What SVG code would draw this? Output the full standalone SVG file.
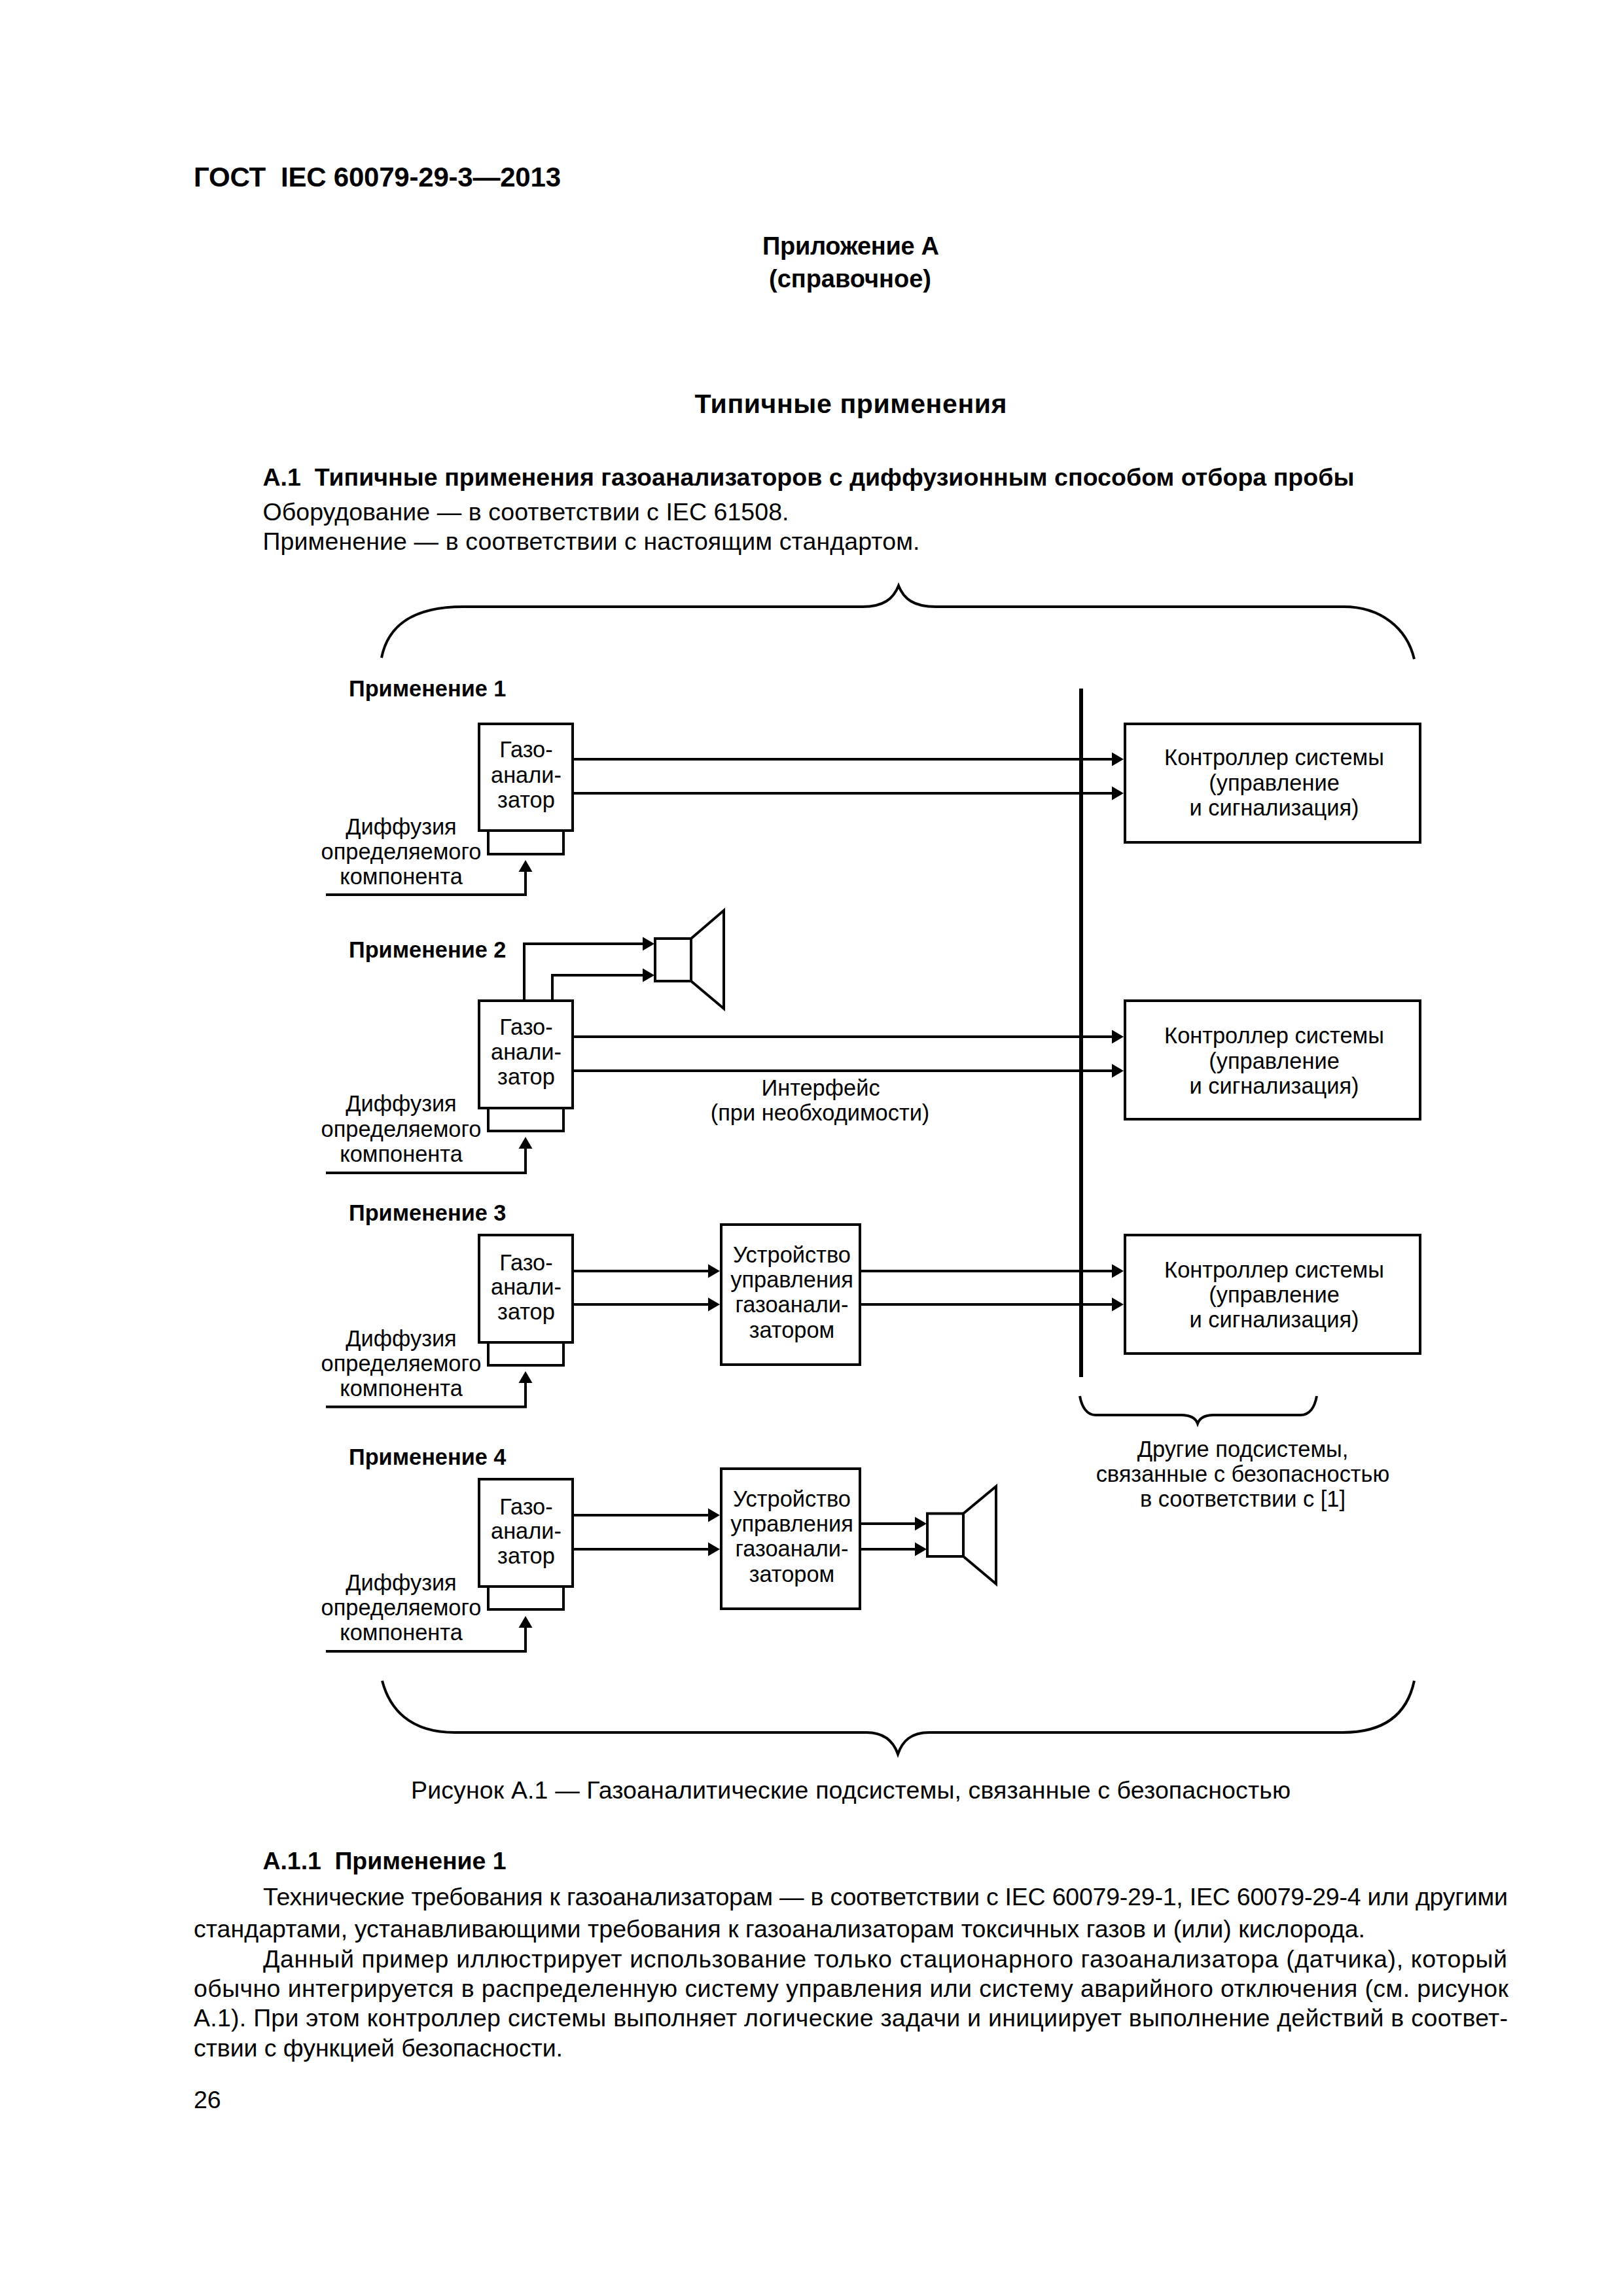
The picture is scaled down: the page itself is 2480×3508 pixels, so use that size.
<svg xmlns="http://www.w3.org/2000/svg" width="2480" height="3508" viewBox="0 0 2480 3508">
<style>
text{font-family:"Liberation Sans",Arial,sans-serif;fill:#000}
.b{font-weight:bold}
.p{font-size:37.5px}
.d{font-size:34.4px;text-anchor:middle}
.l{font-size:34.3px;font-weight:bold}
.box{fill:#fff;stroke:#000;stroke-width:4}
.ln{fill:none;stroke:#000;stroke-width:4}
.br{fill:none;stroke:#000;stroke-width:4}
.a{fill:none;stroke:#000;stroke-width:4;marker-end:url(#arr)}
</style>
<defs>
<marker id="arr" markerUnits="userSpaceOnUse" markerWidth="20" markerHeight="24" refX="9" refY="11" orient="auto"><path d="M0 0.5L18 11L0 21.500z" fill="#000"/></marker>
</defs>
<rect width="2480" height="3508" fill="#fff"/>
<g id="page-text-top">
<text class="b" x="296" y="285" font-size="42" xml:space="preserve" textLength="561">ГОСТ  IEC 60079-29-3—2013</text>
<text class="b" x="1165" y="389" font-size="38" textLength="270">Приложение А</text>
<text class="b" x="1175" y="438.5" font-size="38" textLength="248">(справочное)</text>
<text class="b" x="1061.5" y="631" font-size="41" textLength="477">Типичные применения</text>
<text class="b p" x="401.5" y="742" xml:space="preserve" textLength="1668">А.1  Типичные применения газоанализаторов с диффузионным способом отбора пробы</text>
<text class="p" x="401.5" y="795" textLength="804">Оборудование — в соответствии с IEC 61508.</text>
<text class="p" x="401.5" y="840" textLength="1004">Применение — в соответствии с настоящим стандартом.</text>
</g>
<g id="connectors">
<path class="br" d="M583 1005C592 960 625 927 708 927L1318 927C1350 927 1365 915 1373 895C1381 915 1396 927 1430 927L2053 927C2110 927 2150 960 2161 1007"/>
<path class="br" d="M584 2568C595 2610 625 2647 695 2647L1324 2647C1350 2647 1365 2660 1372 2680C1379 2660 1392 2647 1420 2647L2052 2647C2115 2647 2150 2620 2161 2568"/>
<path class="br" d="M1650 2133C1653 2150 1661 2162 1674 2162L1805 2162C1820 2162 1827 2167 1830 2175C1833 2167 1840 2162 1854 2162L1987 2162C2001 2162 2009 2150 2012 2133"/>
<path class="ln" d="M1652 1052V2104" style="stroke-width:6"/>
<path class="a" d="M875 1160H1708"/>
<path class="a" d="M875 1212H1708"/>
<path class="a" d="M875 1584H1708"/>
<path class="a" d="M875 1636H1708"/>
<path class="a" d="M801 1529V1442H991"/>
<path class="a" d="M844 1529V1490H991"/>
<path class="a" d="M875 1942H1091"/>
<path class="a" d="M875 1993H1091"/>
<path class="a" d="M1314 1942H1708"/>
<path class="a" d="M1314 1993H1708"/>
<path class="a" d="M875 2315H1091"/>
<path class="a" d="M875 2367H1091"/>
<path class="a" d="M1314 2328H1407"/>
<path class="a" d="M1314 2367H1407"/>
<path class="a" d="M498 1367H803V1323"/>
<path class="a" d="M498 1792H803V1746"/>
<path class="a" d="M498 2149.500H803V2104"/>
<path class="a" d="M498 2523H803V2478"/>
</g>
<g id="app1">
<text class="l" x="533" y="1064">Применение 1</text>
<g id="analyzer1">
<path class="ln" d="M746 1269V1305H861V1269"/>
<rect class="box" x="732" y="1106" width="143" height="163"/>
<text class="d" x="804" y="1157">Газо-</text><text class="d" x="804" y="1196">анали-</text><text class="d" x="804" y="1234">затор</text>
</g>
<text class="d" x="613" y="1275">Диффузия</text><text class="d" x="613" y="1313">определяемого</text><text class="d" x="613" y="1351">компонента</text>
<g id="controller1">
<rect class="box" x="1719" y="1106" width="451" height="181"/>
<text class="d" x="1947" y="1169">Контроллер системы</text><text class="d" x="1947" y="1208">(управление</text><text class="d" x="1947" y="1246">и сигнализация)</text>
</g>
</g>
<g id="app2">
<text class="l" x="533" y="1463">Применение 2</text>
<g id="analyzer2">
<path class="ln" d="M746 1693V1728H861V1693"/>
<rect class="box" x="732" y="1529" width="143" height="164"/>
<text class="d" x="804" y="1580.500">Газо-</text><text class="d" x="804" y="1619">анали-</text><text class="d" x="804" y="1657">затор</text>
</g>
<text class="d" x="613" y="1698">Диффузия</text><text class="d" x="613" y="1737">определяемого</text><text class="d" x="613" y="1774.500">компонента</text>
<g id="speaker2">
<path class="ln" d="M1056 1434L1106 1391V1541L1056 1499"/>
<rect class="box" x="1001" y="1434" width="55" height="65"/>
</g>
<text class="d" x="1254" y="1674">Интерфейс</text><text class="d" x="1253" y="1711.500">(при необходимости)</text>
<g id="controller2">
<rect class="box" x="1719" y="1529" width="451" height="181"/>
<text class="d" x="1947" y="1594">Контроллер системы</text><text class="d" x="1947" y="1632.500">(управление</text><text class="d" x="1947" y="1671">и сигнализация)</text>
</g>
</g>
<g id="app3">
<text class="l" x="533" y="1865">Применение 3</text>
<g id="analyzer3">
<path class="ln" d="M746 2051V2086H861V2051"/>
<rect class="box" x="732" y="1887" width="143" height="164"/>
<text class="d" x="804" y="1940.500">Газо-</text><text class="d" x="804" y="1978">анали-</text><text class="d" x="804" y="2016">затор</text>
</g>
<text class="d" x="613" y="2056.500">Диффузия</text><text class="d" x="613" y="2095">определяемого</text><text class="d" x="613" y="2133">компонента</text>
<g id="control3">
<rect class="box" x="1102" y="1871" width="212" height="214"/>
<text class="d" x="1210" y="1928.500">Устройство</text><text class="d" x="1210" y="1967">управления</text><text class="d" x="1210" y="2005">газоанали-</text><text class="d" x="1210" y="2044">затором</text>
</g>
<g id="controller3">
<rect class="box" x="1719" y="1887" width="451" height="181"/>
<text class="d" x="1947" y="1951.500">Контроллер системы</text><text class="d" x="1947" y="1990">(управление</text><text class="d" x="1947" y="2028">и сигнализация)</text>
</g>
</g>
<g id="app4">
<text class="l" x="533" y="2238">Применение 4</text>
<g id="analyzer4">
<path class="ln" d="M746 2424V2459H861V2424"/>
<rect class="box" x="732" y="2260" width="143" height="164"/>
<text class="d" x="804" y="2313.500">Газо-</text><text class="d" x="804" y="2351">анали-</text><text class="d" x="804" y="2389">затор</text>
</g>
<text class="d" x="613" y="2429.500">Диффузия</text><text class="d" x="613" y="2468">определяемого</text><text class="d" x="613" y="2506">компонента</text>
<g id="control4">
<rect class="box" x="1102" y="2244" width="212" height="214"/>
<text class="d" x="1210" y="2301.500">Устройство</text><text class="d" x="1210" y="2340">управления</text><text class="d" x="1210" y="2378">газоанали-</text><text class="d" x="1210" y="2417">затором</text>
</g>
<g id="speaker4">
<path class="ln" d="M1472 2312.500L1522 2271V2420L1472 2378"/>
<rect class="box" x="1417" y="2312.500" width="55" height="65.500"/>
</g>
</g>
<g id="others">
<text class="d" x="1899" y="2226">Другие подсистемы,</text><text class="d" x="1899" y="2264">связанные с безопасностью</text><text class="d" x="1899" y="2302">в соответствии с [1]</text>
</g>
<g id="page-text-bottom">
<text class="p" x="628" y="2747.500" textLength="1344">Рисунок А.1 — Газоаналитические подсистемы, связанные с безопасностью</text>
<text class="b p" x="401.500" y="2856" xml:space="preserve" textLength="372">А.1.1  Применение 1</text>
<text class="p" x="402" y="2910.500" textLength="1902">Технические требования к газоанализаторам — в соответствии с IEC 60079-29-1, IEC 60079-29-4 или другими</text>
<text class="p" x="296" y="2960" textLength="1790">стандартами, устанавливающими требования к газоанализаторам токсичных газов и (или) кислорода.</text>
<text class="p" x="402" y="3006" textLength="1901">Данный пример иллюстрирует использование только стационарного газоанализатора (датчика), который</text>
<text class="p" x="296" y="3051" textLength="2009">обычно интегрируется в распределенную систему управления или систему аварийного отключения (см. рисунок</text>
<text class="p" x="296" y="3096" textLength="2008">А.1). При этом контроллер системы выполняет логические задачи и инициирует выполнение действий в соответ-</text>
<text class="p" x="296" y="3142" textLength="564">ствии с функцией безопасности.</text>
<text class="p" x="296" y="3220.500">26</text>
</g>
</svg>
